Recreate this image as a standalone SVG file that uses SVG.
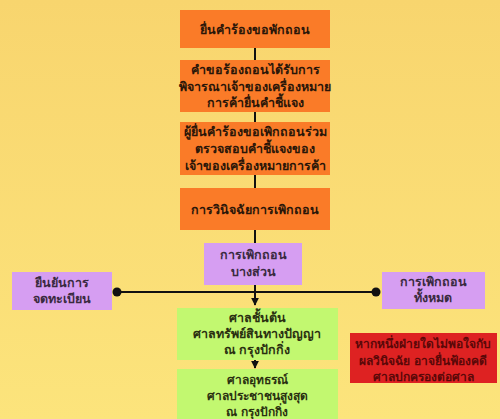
<svg xmlns="http://www.w3.org/2000/svg" width="500" height="419" viewBox="0 0 500 419">
<defs>
<linearGradient id="bg" x1="0" y1="0" x2="0" y2="1">
<stop offset="0" stop-color="#F8D56E"/>
<stop offset="1" stop-color="#FCE47C"/>
</linearGradient>
<marker id="arr" viewBox="0 0 10 10" refX="9" refY="5" markerWidth="4" markerHeight="4" orient="auto">
<path d="M0,0 L10,5 L0,10 z" fill="#111"/>
</marker>
<style>
text{font-family:"Noto Sans","DejaVu Sans",sans-serif;font-weight:bold;font-size:12.5px;text-anchor:middle}
.or rect{fill:#FA7B28}
.or text{fill:#2a1608}
.pu rect{fill:#D69EF2}
.pu text{fill:#3a2a40}
.gr rect{fill:#C2F870}
.gr text{fill:#2a3010}
.rd rect{fill:#DE2222}
.rd text{fill:#5a0808;font-size:12px}
.sm{font-size:12px}
.ln{stroke:#111;stroke-width:2;fill:none}
</style>
</defs>
<rect width="500" height="419" fill="url(#bg)"/>
<g id="connectors">
<path class="ln" d="M255,48 V60 M255,112 V122 M255,175 V188 M255,230 V243"/>
<path class="ln" d="M255,285 V305" marker-end="url(#arr)"/>
<path class="ln" d="M255,360 V368" marker-end="url(#arr)"/>
<path class="ln" d="M117,292 H376"/>
<circle cx="117" cy="292" r="4.5" fill="#111"/>
<circle cx="376" cy="292" r="4.5" fill="#111"/>
</g>
<g id="n1" class="or"><rect x="180" y="10" width="150" height="38"/><text x="255" y="34">ยื่นคำร้องขอพักถอน</text></g>
<g id="n2" class="or"><rect x="180" y="60" width="150" height="52"/><text x="255" y="74">คำขอร้องถอนได้รับการ</text><text x="255" y="91">พิจารณาเจ้าของเครื่องหมาย</text><text x="255" y="107">การค้ายื่นคำชี้แจง</text></g>
<g id="n3" class="or"><rect x="180" y="122" width="150" height="53"/><text x="255" y="136">ผู้ยื่นคำร้องขอเพิกถอนร่วม</text><text x="255" y="153">ตรวจสอบคำชี้แจงของ</text><text x="255" y="170">เจ้าของเครื่องหมายการค้า</text></g>
<g id="n4" class="or"><rect x="180" y="188" width="150" height="42"/><text x="255" y="214">การวินิจฉัยการเพิกถอน</text></g>
<g id="n5" class="pu"><rect x="204" y="243" width="98" height="42"/><text x="253" y="259">การเพิกถอน</text><text x="253" y="276">บางส่วน</text></g>
<g id="n6" class="pu"><rect x="12" y="272" width="100" height="38"/><text x="62" y="287">ยืนยันการ</text><text x="62" y="303">จดทะเบียน</text></g>
<g id="n7" class="pu"><rect x="382" y="272" width="103" height="37"/><text x="433" y="286">การเพิกถอน</text><text x="433" y="302">ทั้งหมด</text></g>
<g id="n8" class="gr"><rect x="177" y="308" width="161" height="52"/><text x="257" y="322">ศาลชั้นต้น</text><text x="257" y="338">ศาลทรัพย์สินทางปัญญา</text><text x="257" y="354">ณ กรุงปักกิ่ง</text></g>
<g id="n9" class="gr"><rect x="177" y="369" width="161" height="60"/><text class="sm" x="257" y="384">ศาลอุทธรณ์</text><text class="sm" x="257" y="400">ศาลประชาชนสูงสุด</text><text class="sm" x="257" y="416">ณ กรุงปักกิ่ง</text></g>
<g id="n10" class="rd"><rect x="350" y="333" width="147" height="50"/><text x="423" y="348">หากหนึ่งฝ่ายใดไม่พอใจกับ</text><text x="423" y="364.5">ผลวินิจฉัย อาจยื่นฟ้องคดี</text><text x="423" y="380.5">ศาลปกครองต่อศาล</text></g>
</svg>
